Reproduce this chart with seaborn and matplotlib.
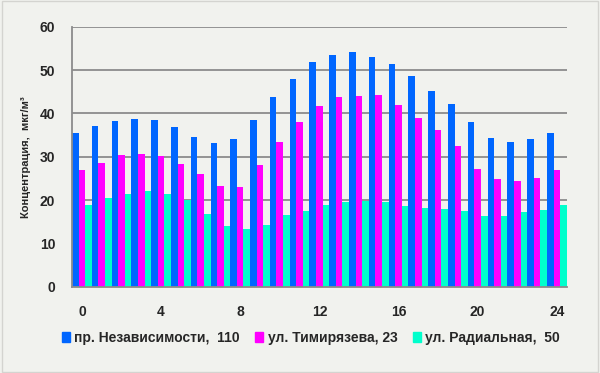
import pandas as pd
import matplotlib.pyplot as plt
import matplotlib.patches as mpatches
import seaborn as sns

# Hourly concentrations
hours = list(range(25))
nezav = [35.5, 37.1, 38.2, 38.7, 38.5, 36.8, 34.5, 33.1, 34.1, 38.5, 43.7, 47.9, 51.8, 53.4,
         54.2, 53.0, 51.5, 48.6, 45.2, 42.2, 38.0, 34.3, 33.5, 34.1, 35.5]
timir = [26.9, 28.5, 30.4, 30.6, 30.2, 28.2, 26.0, 23.2, 23.0, 28.0, 33.4, 38.1, 41.8, 43.7,
         44.0, 44.2, 42.0, 39.0, 36.1, 32.4, 27.2, 24.8, 24.5, 25.0, 26.9]
radial = [18.9, 20.4, 21.5, 22.0, 21.5, 20.1, 16.8, 14.0, 13.3, 14.2, 16.6, 17.4, 18.9, 19.6,
          19.8, 19.6, 18.6, 18.2, 17.9, 17.4, 16.2, 16.2, 17.2, 17.7, 18.9]
series_names = ['пр. Независимости,  110', 'ул. Тимирязева, 23', 'ул. Радиальная,  50']
colors = ['#0066FF', '#FF00FF', '#00FFCC']
xticks = [0, 4, 8, 12, 16, 20, 24]

df = pd.DataFrame({
    'hour': hours * 3,
    'value': nezav + timir + radial,
    'series': [series_names[0]] * 25 + [series_names[1]] * 25 + [series_names[2]] * 25,
})

sns.set_style('white')
plt.rcParams['font.family'] = ['Liberation Sans', 'DejaVu Sans']
bg = '#F1F2EE'

fig = plt.figure(figsize=(6, 3.73), dpi=100, facecolor=bg)
ax = fig.add_axes([0.12, 0.2314, 0.8245, 0.6970])
ax.set_facecolor(bg)

sns.barplot(data=df, x='hour', y='value', hue='series', palette=colors,
            width=1.0, saturation=1, linewidth=0, ax=ax, legend=False)

ax.set_ylim(0, 60)
ax.set_xlim(-0.5, 24.5)
ax.set_yticks(range(0, 61, 10))
ax.yaxis.grid(True, color='#8C8C8C', linewidth=1.3)
ax.set_axisbelow(True)
ax.set_xticks(xticks)
ax.set_xticklabels([str(h) for h in xticks])
ax.set_xticks([h - 0.5 for h in range(26)], minor=True)
ax.tick_params(axis='x', which='major', length=0, pad=13, labelsize=10)
ax.tick_params(axis='x', which='minor', length=4, color='#8C8C8C', width=1)
ax.tick_params(axis='y', length=4, color='#8C8C8C', width=1, pad=8, labelsize=10)
for lab in ax.get_xticklabels() + ax.get_yticklabels():
    lab.set_fontweight('bold')

for s in ['top', 'right']:
    ax.spines[s].set_visible(False)
for s in ['left', 'bottom']:
    ax.spines[s].set_color('#8C8C8C')
    ax.spines[s].set_linewidth(1.3)

ax.set_xlabel('')
ax.set_ylabel('Концентрация,  мкг/м³', fontsize=8, fontweight='bold', labelpad=6)

handles = [mpatches.Patch(color=c, label=n) for c, n in zip(colors, series_names)]
leg = fig.legend(handles=handles, loc='center', bbox_to_anchor=(0.518, 0.095), ncol=3,
                 frameon=False, handlelength=0.6, handleheight=0.7, handletextpad=0.3,
                 columnspacing=1.1, prop={'weight': 'bold', 'size': 10})

fig.patches.append(mpatches.Rectangle((0.003, 0.004), 0.994, 0.992, transform=fig.transFigure,
                                      fill=False, edgecolor='#D4D4D0', linewidth=1))

fig.savefig('out.png', dpi=100, facecolor=bg)
